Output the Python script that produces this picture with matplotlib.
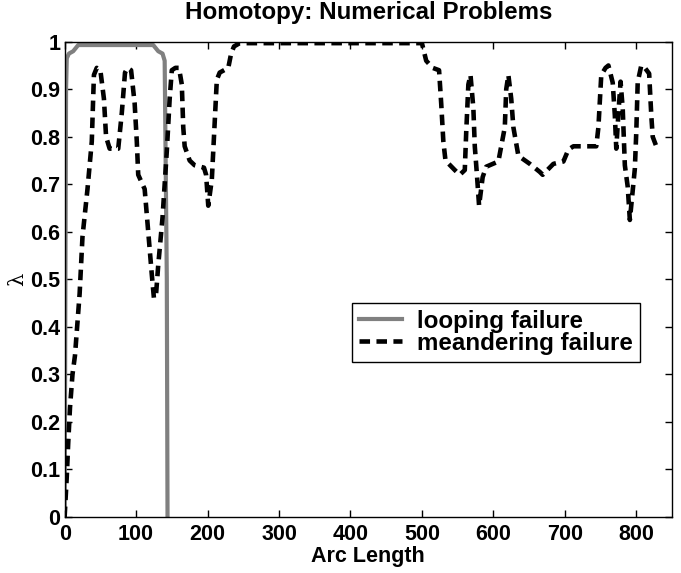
import numpy as np
import matplotlib
matplotlib.use("Agg")
import matplotlib.pyplot as plt

# looping failure (grey solid)
loop_x = [0, 2, 3, 6, 12, 19, 124, 131, 137, 140, 143, 144]
loop_y = [0, 0.90, 0.965, 0.975, 0.98, 0.993, 0.993, 0.98, 0.975, 0.96, 0.5, 0]

# meandering failure (black dashed)
mean_x = [0, 3, 5, 7.5, 11, 14.5, 18, 21, 25, 32, 38, 41, 45, 50, 55, 58, 63, 75,
          80, 84.5, 88, 93, 98, 101, 103, 112, 117, 122, 125, 128, 131, 137, 143,
          147, 150, 155, 160, 164, 166, 168, 175, 182, 195, 198, 201, 206, 210,
          213, 217, 229, 233, 237, 245, 500, 506, 515, 524, 527, 530, 533, 546,
          553, 560, 562, 565, 568, 572, 574, 577, 580, 585, 590, 607, 611, 616,
          618, 621, 625, 628, 635, 651, 665, 669, 684, 698, 705, 712, 744, 747,
          751, 757, 761, 767, 770, 772, 775, 778, 781, 784, 788, 791, 798, 800,
          802, 807, 812, 818, 821, 823, 828]
mean_y = [0, 0.085, 0.155, 0.23, 0.30, 0.34, 0.41, 0.47, 0.59, 0.69, 0.79, 0.93,
          0.945, 0.94, 0.88, 0.80, 0.775, 0.775, 0.85, 0.935, 0.945, 0.94, 0.87,
          0.79, 0.72, 0.69, 0.60, 0.51, 0.46, 0.47, 0.53, 0.63, 0.77, 0.88, 0.94,
          0.945, 0.945, 0.91, 0.82, 0.78, 0.75, 0.74, 0.735, 0.72, 0.655, 0.71,
          0.83, 0.92, 0.935, 0.945, 0.975, 0.99, 0.997, 0.997, 0.96, 0.945, 0.94,
          0.87, 0.79, 0.75, 0.73, 0.72, 0.73, 0.81, 0.91, 0.93, 0.86, 0.78, 0.72,
          0.655, 0.715, 0.737, 0.748, 0.78, 0.82, 0.90, 0.93, 0.88, 0.82, 0.76,
          0.743, 0.726, 0.72, 0.743, 0.748, 0.773, 0.78, 0.78, 0.82, 0.93, 0.945,
          0.95, 0.914, 0.845, 0.775, 0.85, 0.916, 0.86, 0.74, 0.695, 0.625, 0.733,
          0.81, 0.915, 0.95, 0.945, 0.933, 0.845, 0.80, 0.78]

plt.rcParams['font.family'] = ['Liberation Sans', 'DejaVu Sans']
plt.rcParams['font.weight'] = 'bold'

fig = plt.figure(figsize=(6.81, 5.73), dpi=100)
ax = fig.add_axes([0.0949, 0.0977, 0.8919, 0.8295])

ax.plot(loop_x, loop_y, color='#808080', lw=3.0, label='looping failure')
ax.plot(mean_x, mean_y, color='black', lw=3.3, dashes=(2.3, 1.4),
        label='meandering failure')

ax.set_xlim(0, 850)
ax.set_ylim(0, 1)
ax.set_xticks(np.arange(0, 801, 100))
ax.set_yticks(np.arange(0, 1.01, 0.1))
ax.set_yticklabels(['0', '0.1', '0.2', '0.3', '0.4', '0.5', '0.6', '0.7', '0.8', '0.9', '1'])
ax.tick_params(direction='in', top=True, right=True, length=5, width=1,
               labelsize=15.5)
ax.tick_params(axis='x', pad=5)
ax.tick_params(axis='y', pad=3)
for s in ax.spines.values():
    s.set_linewidth(1)

ax.set_title('Homotopy: Numerical Problems', fontsize=17.4, fontweight='bold', pad=16)
ax.set_xlabel('Arc Length', fontsize=15.5, fontweight='bold', labelpad=1)
ax.set_ylabel('λ', fontsize=15, fontweight='normal', family='DejaVu Serif', labelpad=2)

leg = ax.legend(loc='upper left', bbox_to_anchor=(0.4727, 0.4509), borderaxespad=0,
                fontsize=17.4, handlelength=1.8, fancybox=False, framealpha=1,
                edgecolor='black', borderpad=0.3, labelspacing=-0.05,
                handletextpad=0.6)
leg.get_frame().set_linewidth(1)

fig.savefig('out.png', dpi=100)
